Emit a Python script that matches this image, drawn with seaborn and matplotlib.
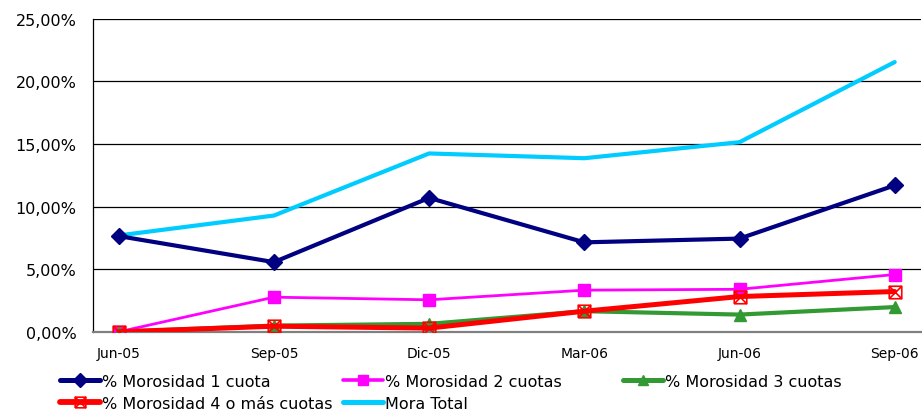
import matplotlib
matplotlib.use("Agg")
import matplotlib.pyplot as plt
from matplotlib.path import Path
from matplotlib.lines import Line2D
from matplotlib.ticker import FuncFormatter
import seaborn as sns
import pandas as pd
import numpy as np

periods = ["Jun-05", "Sep-05", "Dic-05", "Mar-06", "Jun-06", "Sep-06"]
mora_1_cuota = [7.65, 5.57, 10.7, 7.15, 7.45, 11.7]
mora_2_cuotas = [0.0, 2.77, 2.56, 3.33, 3.4, 4.58]
mora_3_cuotas = [0.0, 0.5, 0.64, 1.65, 1.38, 1.98]
mora_4_cuotas = [0.0, 0.45, 0.3, 1.65, 2.82, 3.22]
mora_total = [7.7, 9.29, 14.25, 13.87, 15.15, 21.55]
y_ticks = [0, 5, 10, 15, 20, 25]

series = [
    ("% Morosidad 1 cuota", mora_1_cuota),
    ("% Morosidad 2 cuotas", mora_2_cuotas),
    ("% Morosidad 3 cuotas", mora_3_cuotas),
    ("% Morosidad 4 o más cuotas", mora_4_cuotas),
    ("Mora Total", mora_total),
]

sns.set_theme(style="white")
plt.rcParams['font.family'] = ['DejaVu Sans']
plt.rcParams['text.color'] = 'black'
plt.rcParams['xtick.color'] = 'black'
plt.rcParams['ytick.color'] = 'black'

# square with a cross marker
sq_x = Path(
    [(-1, -1), (1, -1), (1, 1), (-1, 1), (-1, -1), (-1, -1), (1, 1), (-1, 1), (1, -1)],
    [Path.MOVETO, Path.LINETO, Path.LINETO, Path.LINETO, Path.LINETO,
     Path.MOVETO, Path.LINETO, Path.MOVETO, Path.LINETO],
)

styles = {
    "% Morosidad 1 cuota": dict(color="#000080", lw=3.0, marker="D", ms=8.5, mfc="#000080", mec="#000080", mew=1),
    "% Morosidad 2 cuotas": dict(color="#FF00FF", lw=2.0, marker="s", ms=8, mfc="#FF00FF", mec="#FF00FF", mew=1),
    "% Morosidad 3 cuotas": dict(color="#339933", lw=3.0, marker="^", ms=9, mfc="#339933", mec="#339933", mew=1),
    "% Morosidad 4 o más cuotas": dict(color="#FF0000", lw=3.6, marker=sq_x, ms=9, mfc="none", mec="#FF0000", mew=1.2),
    "Mora Total": dict(color="#00CCFF", lw=3.0, marker=None, ms=0, mfc="none", mec="none", mew=0),
}

rows = []
for name, vals in series:
    for i, v in enumerate(vals):
        rows.append({"x": i, "y": v, "serie": name})
df = pd.DataFrame(rows)

fig = plt.figure(figsize=(9.22, 4.14), dpi=100)
ax = fig.add_axes([0.101, 0.196, 0.898, 0.756])

order = ["Mora Total", "% Morosidad 1 cuota", "% Morosidad 2 cuotas",
         "% Morosidad 3 cuotas", "% Morosidad 4 o más cuotas"]
handles = {}
for name in order:
    st = styles[name]
    sub = df[df["serie"] == name]
    sns.lineplot(data=sub, x="x", y="y", ax=ax, color=st["color"], lw=st["lw"],
                 marker=st["marker"], markersize=st["ms"], markerfacecolor=st["mfc"],
                 markeredgecolor=st["mec"], markeredgewidth=st["mew"],
                 legend=False, solid_joinstyle="miter", zorder=3)
    handles[name] = Line2D([], [], color=st["color"], lw=st["lw"] + 0.6,
                           marker=st["marker"], markersize=st["ms"] * 0.85,
                           markerfacecolor=st["mfc"], markeredgecolor=st["mec"],
                           markeredgewidth=st["mew"])

ax.set_xlim(-0.165, 5.17)
ax.set_ylim(0, 25)
ax.set_yticks(y_ticks)
ax.yaxis.set_major_formatter(FuncFormatter(lambda v, p: f"{v:.2f}%".replace(".", ",")))
ax.set_xticks(range(len(periods)))
ax.set_xticklabels(periods, fontsize=10)
ax.set_xticks(np.arange(len(periods)) - 0.165, minor=True)
ax.tick_params(axis="x", which="major", length=0, pad=10)
ax.tick_params(axis="x", which="minor", length=4, width=0.8, color="#333333", direction="out")
ax.tick_params(axis="y", length=5, width=0.8, color="black", direction="out", labelsize=11.5, pad=7)
ax.set_xlabel("")
ax.set_ylabel("")
ax.grid(axis="y", color="black", lw=0.9)
for sp in ["top", "right"]:
    ax.spines[sp].set_visible(False)
ax.spines["left"].set_color("black")
ax.spines["left"].set_linewidth(0.9)
ax.spines["bottom"].set_color("#808080")
ax.spines["bottom"].set_linewidth(1.6)

columns = [
    (60, ["% Morosidad 1 cuota", "% Morosidad 4 o más cuotas"]),
    (343, ["% Morosidad 2 cuotas", "Mora Total"]),
    (623, ["% Morosidad 3 cuotas"]),
]
W, H = 922, 414
for xpix, names in columns:
    fig.legend([handles[n] for n in names], names, loc="upper left",
               bbox_to_anchor=(xpix / W, 1 - 375 / H), frameon=False, fontsize=11.5,
               handlelength=2.5, handletextpad=0.15, labelspacing=0.42,
               borderpad=0, borderaxespad=0)

fig.savefig("out.png", dpi=100)
